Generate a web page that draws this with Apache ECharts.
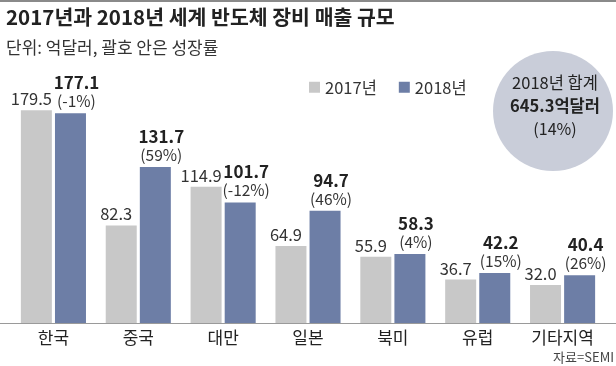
<!DOCTYPE html>
<html><head><meta charset="utf-8">
<script src="https://cdn.jsdelivr.net/npm/echarts@6/dist/echarts.min.js"></script>
<style>html,body{margin:0;padding:0;background:#fff}#c{width:616px;height:366px}</style>
</head><body><div id="c"></div>
<script>
const categories = ['한국','중국','대만','일본','북미','유럽','기타지역'];
const v2017 = [179.5, 82.3, 114.9, 64.9, 55.9, 36.7, 32.0];
const v2018 = [177.1, 131.7, 101.7, 94.7, 58.3, 42.2, 40.4];
const growth = [-1, 59, -12, 46, 4, 15, 26];
const seriesNames = ['2017년','2018년'];
const FONT = '"Noto Sans CJK KR", "Noto Sans", sans-serif';
const chart = echarts.init(document.getElementById('c'), null, {renderer:'canvas'});
chart.setOption({
  backgroundColor:'#fff',
  animation:false,
  textStyle:{fontFamily:FONT},
  title:[
    {text:'2017년과 2018년 세계 반도체 장비 매출 규모', left:1, top:2,
     textStyle:{fontFamily:FONT, fontSize:20.5, fontWeight:'bold', color:'#222'}},
    {text:'단위: 억달러, 괄호 안은 성장률', left:1, top:34,
     textStyle:{fontFamily:FONT, fontSize:17, fontWeight:'normal', color:'#333'}}
  ],
  legend:{left:304, top:74, itemWidth:11, itemHeight:11, itemGap:22,
    icon:'rect', textStyle:{fontFamily:FONT, fontSize:16.5, color:'#333'},
    data:seriesNames},
  grid:{left:11, right:11, top:86, bottom:43},
  xAxis:{type:'category', data:categories,
    axisLine:{show:false}, axisTick:{show:false},
    axisLabel:{fontFamily:FONT, fontSize:17, color:'#222', margin:6}},
  yAxis:{type:'value', min:0, max:200, show:false},
  graphic:[
    {type:'rect', shape:{x:0,y:0,width:616,height:2}, style:{fill:'#8a8a8a'}, silent:true},
    {type:'rect', shape:{x:0,y:323,width:616,height:1}, style:{fill:'#9a9a9a'}, silent:true, z:10},
    {type:'circle', shape:{cx:553, cy:111, r:60}, style:{fill:'#c9cdd9'}, silent:true},
    {type:'text', style:{x:555, y:83, text:'2018년 합계', textAlign:'center', textVerticalAlign:'middle',
      font:'16.5px '+FONT, fill:'#222'}},
    {type:'text', style:{x:555, y:106, text:'645.3억달러', textAlign:'center', textVerticalAlign:'middle',
      font:'bold 16.5px '+FONT, fill:'#222'}},
    {type:'text', style:{x:555, y:129, text:'(14%)', textAlign:'center', textVerticalAlign:'middle',
      font:'16px '+FONT, fill:'#222'}},
    {type:'text', style:{x:614, y:357, text:'자료=SEMI', textAlign:'right', textVerticalAlign:'middle',
      font:'13px '+FONT, fill:'#444'}}
  ],
  series:[
    {name:seriesNames[0], type:'bar', data:v2017, barWidth:31, barGap:'10%',
     itemStyle:{color:'#c8c8c8'},
     label:{show:true, position:'top', distance:3, offset:[-5,0],
       fontFamily:FONT, fontSize:16.5, color:'#333',
       formatter:p=>p.value.toFixed(1)}},
    {name:seriesNames[1], type:'bar', data:v2018, barWidth:31,
     itemStyle:{color:'#6d7ea6'},
     label:{show:true, position:'top', distance:3, offset:[6,0],
       formatter:p=>'{b|'+p.value.toFixed(1)+'}\n{p|('+growth[p.dataIndex]+'%)}',
       rich:{
         b:{fontFamily:FONT, fontSize:17, fontWeight:'bold', color:'#222', lineHeight:19, align:'center'},
         p:{fontFamily:FONT, fontSize:15.5, color:'#333', lineHeight:18, align:'center'}
       }}}
  ]
});
</script></body></html>
